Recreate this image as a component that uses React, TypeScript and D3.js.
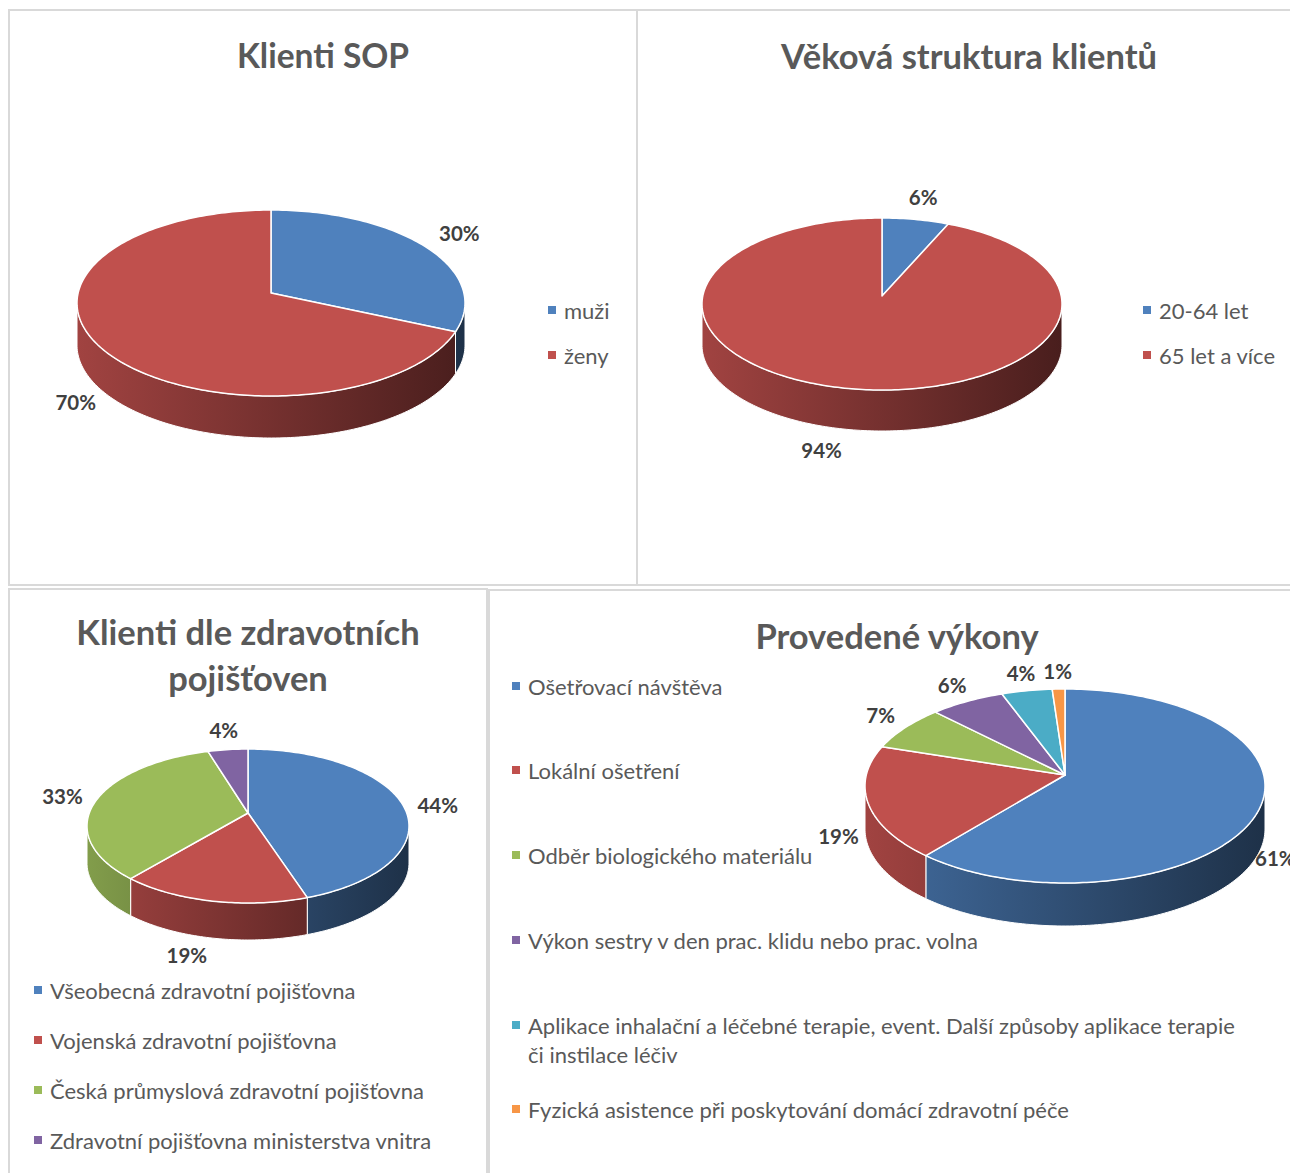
import React from "react";
import * as d3 from "d3";

const W = 1290;
const H = 1173;
const FONT = "Lato, 'Open Sans', sans-serif";
const TEXT = "#595959";
const LABEL = "#404040";
const BORDER = "#d9d9d9";

const COLORS = ["#4F81BD", "#C0504D", "#9BBB59", "#8064A2", "#4BACC6", "#F79646"];

const sopLabels = ["muži", "ženy"];
const sopValues = [30, 70];

const ageLabels = ["20-64 let", "65 let a více"];
const ageValues = [6, 94];

const insLabels = [
  "Všeobecná zdravotní pojišťovna",
  "Vojenská zdravotní pojišťovna",
  "Česká průmyslová zdravotní pojišťovna",
  "Zdravotní pojišťovna ministerstva vnitra",
];
const insValues = [44, 19, 33, 4];

const serviceLabels = [
  ["Ošetřovací návštěva"],
  ["Lokální ošetření"],
  ["Odběr biologického materiálu"],
  ["Výkon sestry v den prac. klidu nebo prac. volna"],
  ["Aplikace inhalační a léčebné terapie, event. Další způsoby aplikace terapie", "či instilace léčiv"],
  ["Fyzická asistence při poskytování domácí zdravotní péče"],
];
const serviceValues = [61, 19, 7, 6, 4, 1];

type Geo = { id: string; cx: number; cy: number; rx: number; ry: number; depth: number; apex: number; k: number };

const line = d3.line<[number, number]>();

function ring(g: Geo, a0: number, a1: number, dy = 0): [number, number][] {
  const n = Math.max(2, Math.ceil(Math.abs(a1 - a0) / 0.02));
  return d3.range(n + 1).map((i) => {
    const a = a0 + ((a1 - a0) * i) / n;
    return [g.cx + g.rx * Math.sin(a), g.cy - g.ry * Math.cos(a) + dy] as [number, number];
  });
}

function shade(c: string, f: number) {
  const r = d3.rgb(c);
  return d3.rgb(r.r * f, r.g * f, r.b * f).formatHex();
}

const Pie3D = ({ g, values }: { g: Geo; values: number[] }) => {
  const arcs = d3.pie<number>().sort(null).value((d) => d)(values);
  return (
    <g>
      <defs>
        {values.map((_, i) => (
          <linearGradient key={i} id={`${g.id}-side-${i}`} gradientUnits="userSpaceOnUse"
            x1={g.cx - g.rx} x2={g.cx + g.rx} y1={0} y2={0}>
            <stop offset="0" stopColor={shade(COLORS[i], 0.84)} />
            <stop offset="1" stopColor={shade(COLORS[i], 0.38)} />
          </linearGradient>
        ))}
      </defs>
      {arcs.map((a, i) => {
        const s = Math.max(a.startAngle, Math.PI / 2);
        const e = Math.min(a.endAngle, (3 * Math.PI) / 2);
        if (s >= e) return null;
        const pts = [...ring(g, s, e), ...ring(g, e, s, g.depth)];
        return <path key={i} d={line(pts) + "Z"} fill={`url(#${g.id}-side-${i})`} stroke="#fff" strokeWidth={1} />;
      })}
      {arcs.map((a, i) => {
        const pts: [number, number][] = [[g.cx, g.cy - g.apex], ...ring(g, a.startAngle, a.endAngle)];
        return <path key={i} d={line(pts) + "Z"} fill={COLORS[i]} stroke="#fff" strokeWidth={1.5} strokeLinejoin="round" />;
      })}
      {arcs.map((a, i) => {
        const m = (a.startAngle + a.endAngle) / 2;
        const c = Math.cos(m);
        const front = c < 0;
        const x = g.cx + g.rx * g.k * Math.sin(m) - (front ? 20 * c * c : 0);
        const y = g.cy - g.ry * g.k * c + (front ? g.depth - 6 + 18 * (c * c - 0.5) : -4);
        return (
          <text key={i} x={x} y={y} textAnchor="middle" dominantBaseline="central"
            fontFamily={FONT} fontWeight="bold" fontSize={20.5} fill={LABEL}>
            {values[i]}%
          </text>
        );
      })}
    </g>
  );
};

const Legend = ({ x, y, items, gaps, size = 22, lineGap = 29 }: { x: number; y: number; items: string[][]; gaps: number[]; size?: number; lineGap?: number }) => {
  let yy = y;
  return (
    <g fontFamily={FONT} fontSize={size} fill={TEXT}>
      {items.map((lines, i) => {
        const top = yy;
        yy += gaps[i];
        return (
          <g key={i}>
            <rect x={x} y={top - 4} width={8} height={8} fill={COLORS[i]} />
            {lines.map((t, j) => (
              <text key={j} x={x + 16} y={top + j * lineGap} dominantBaseline="central">{t}</text>
            ))}
          </g>
        );
      })}
    </g>
  );
};

const Title = ({ x, y, lines, size = 34.5 }: { x: number; y: number; lines: string[]; size?: number }) => (
  <g>
    {lines.map((t, i) => (
      <text key={i} x={x} y={y + i * 46} textAnchor="middle" dominantBaseline="central"
        fontFamily={FONT} fontWeight="bold" fontSize={size} fill={TEXT}>{t}</text>
    ))}
  </g>
);

const App = () => {
  const g1: Geo = { id: "p1", cx: 271, cy: 303, rx: 194, ry: 93, depth: 42, apex: 10, k: 1.2 };
  const g2: Geo = { id: "p2", cx: 882, cy: 304, rx: 180, ry: 86, depth: 41, apex: 8, k: 1.22 };
  const g3: Geo = { id: "p3", cx: 248, cy: 826, rx: 161, ry: 77, depth: 37, apex: 13, k: 1.2 };
  const g4: Geo = { id: "p4", cx: 1065, cy: 786, rx: 200, ry: 97, depth: 43, apex: 11, k: 1.15 };

  return (
    <svg width={W} height={H} style={{ position: "absolute", left: 0, top: 0, background: "#fff" }}>
      <g fill="none" stroke={BORDER} strokeWidth={2}>
        <rect x={9} y={10} width={628} height={575} />
        <rect x={637} y={10} width={700} height={575} />
        <rect x={9} y={589} width={478} height={620} />
        <rect x={489} y={590} width={850} height={620} />
      </g>

      <Title x={323} y={55} lines={["Klienti SOP"]} size={33.5} />
      <Pie3D g={g1} values={sopValues} />
      <Legend x={548} y={310} gaps={[45, 45]} items={sopLabels.map((d) => [d])} />

      <Title x={969} y={55} lines={["Věková struktura klientů"]} />
      <Pie3D g={g2} values={ageValues} />
      <Legend x={1143} y={310} gaps={[45, 45]} items={ageLabels.map((d) => [d])} />

      <Title x={248} y={631} lines={["Klienti dle zdravotních", "pojišťoven"]} />
      <Pie3D g={g3} values={insValues} />
      <Legend x={34} y={990} gaps={[50, 50, 50, 50]} items={insLabels.map((d) => [d])} />

      <Title x={897} y={635} lines={["Provedené výkony"]} />
      <Pie3D g={g4} values={serviceValues} />
      <Legend x={512} y={686} gaps={[84, 85, 85, 85, 84, 85]} items={serviceLabels} />
    </svg>
  );
};

export default App;
